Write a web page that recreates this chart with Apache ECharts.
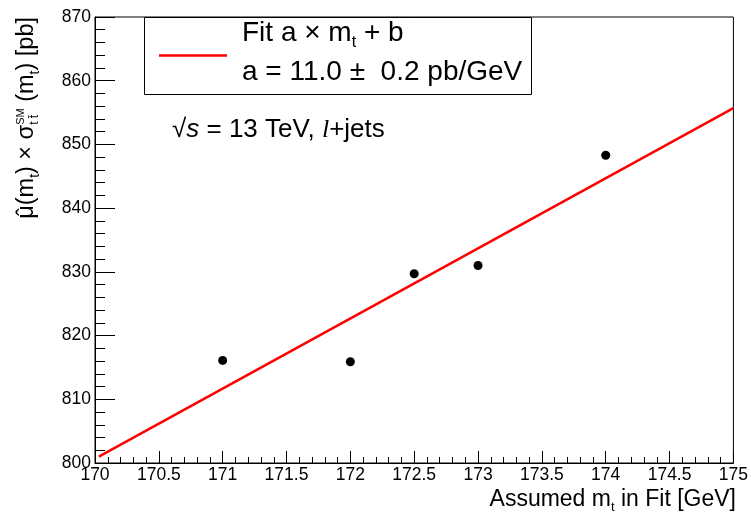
<!DOCTYPE html>
<html>
<head>
<meta charset="utf-8">
<script src="https://cdn.jsdelivr.net/npm/echarts@6/dist/echarts.min.js"></script>
<style>
  html, body { margin: 0; padding: 0; background: #fff; }
  #chart { width: 751px; height: 513px; }
</style>
</head>
<body>
<div id="chart"></div>
<script>
// assumed top mass in the fit [GeV] and measured cross-section [pb]
const massPoints = [171, 172, 172.5, 173, 174]
const xsecValues = [816.1, 815.9, 829.7, 831.0, 848.3]

// fitted straight line, end points
const fitMass = [170.03, 175]
const fitXsec = [801.0, 855.7]

const xRange = [170, 175]
const yRange = [800, 870]

const FONT = '"Liberation Sans", Arial, sans-serif'

// measure text so sub/superscripts can be placed by hand
const ctx = document.createElement('canvas').getContext('2d')

function textRun(parts, x, y, rotation, alignEnd) {
  let cx = 0
  let stackW = 0
  const children = []
  parts.forEach(p => {
    const font = (p.style || 'normal') + ' ' + p.size + 'px ' + (p.family || FONT)
    ctx.font = font
    const tw = ctx.measureText(p.t).width
    children.push({
      type: 'text',
      z: 100,
      x: cx + (p.dx || 0),
      y: (p.dy || 0) - 0.35 * p.size,
      style: {
        text: p.t, font: font, fill: '#000',
        align: 'left', verticalAlign: 'middle',
        textAlign: 'left', textVerticalAlign: 'middle'
      }
    })
    if (p.hold) {
      stackW = Math.max(stackW, tw)
    } else {
      cx += Math.max(tw, stackW)
      stackW = 0
    }
  })
  // alignEnd: (x, y) is the end of the run instead of its start
  if (alignEnd) {
    if (rotation) y += cx
    else x -= cx
  }
  return { type: 'group', x: x, y: y, rotation: rotation || 0, children: children, z: 100 }
}

const S = 23.5
ctx.font = S + 'px ' + FONT
const muW = ctx.measureText('\u03BC').width
const hatW = ctx.measureText('\u02C6').width

const yTitle = textRun([
  { t: '\u03BC', size: S },
  { t: '\u02C6', size: S, dx: -(muW + hatW) / 2, hold: true },
  { t: '(m', size: S },
  { t: 't', size: 14, dy: 5 },
  { t: ') \u00D7 \u03C3', size: S },
  { t: 'SM', size: 11, dy: -10, hold: true },
  { t: 't t\u0304', size: 12, dy: 4 },
  { t: ' (m', size: S },
  { t: 't', size: 14, dy: 5 },
  { t: ') [pb]', size: S }
], 35, 17, Math.PI / 2, true)

const xTitle = textRun([
  { t: 'Assumed m', size: 23 },
  { t: 't', size: 13, dy: 4 },
  { t: ' in Fit [GeV]', size: 23 }
], 736, 508, 0, true)

const legendLine1 = textRun([
  { t: 'Fit a \u00D7 m', size: 28 },
  { t: 't', size: 16, dy: 5 },
  { t: ' + b', size: 28 }
], 242, 43)

const legendLine2 = textRun([
  { t: 'a = 11.0 \u00B1  0.2 pb/GeV', size: 28 }
], 242, 82)

const energyLabel = textRun([
  { t: '\u221A', size: 26 },
  { t: 's', size: 26, style: 'italic' },
  { t: ' = 13 TeV, ', size: 26 },
  { t: 'l', size: 26, style: 'italic', family: '"Liberation Serif", serif' },
  { t: '+jets', size: 26 }
], 172, 139)

const chart = echarts.init(document.getElementById('chart'))

chart.setOption({
  animation: false,
  backgroundColor: '#fff',
  grid: {
    left: 95, right: 14, top: 17, bottom: 50,
    show: true, borderColor: '#000', borderWidth: 1
  },
  xAxis: {
    type: 'value',
    min: xRange[0], max: xRange[1], interval: 0.5,
    axisLine: { lineStyle: { color: '#000', width: 1 } },
    axisTick: { inside: true, length: 12, lineStyle: { color: '#000' } },
    minorTick: { show: true, splitNumber: 5, length: 6, lineStyle: { color: '#000' } },
    axisLabel: { color: '#000', fontSize: 17.5, fontFamily: FONT, margin: 3 },
    splitLine: { show: false }
  },
  yAxis: {
    type: 'value',
    min: yRange[0], max: yRange[1], interval: 10,
    axisLine: { show: true, lineStyle: { color: '#000', width: 1 } },
    axisTick: { show: true, inside: true, length: 20, lineStyle: { color: '#000' } },
    minorTick: { show: true, splitNumber: 5, length: 10, lineStyle: { color: '#000' } },
    axisLabel: { color: '#000', fontSize: 17.5, fontFamily: FONT, margin: 4 },
    splitLine: { show: false }
  },
  series: [
    {
      name: 'Fit',
      type: 'line',
      data: fitMass.map((m, i) => [m, fitXsec[i]]),
      showSymbol: false,
      lineStyle: { color: '#ff0000', width: 2.5 },
      z: 2
    },
    {
      name: 'Data',
      type: 'scatter',
      data: massPoints.map((m, i) => [m, xsecValues[i]]),
      symbolSize: 9,
      itemStyle: { color: '#000', opacity: 1 },
      z: 3
    }
  ],
  graphic: [
    {
      type: 'rect', z: 90,
      shape: { x: 144.5, y: 17.5, width: 387, height: 77 },
      style: { fill: '#fff', stroke: '#000', lineWidth: 1 }
    },
    {
      type: 'line', z: 95,
      shape: { x1: 159, y1: 55.5, x2: 227, y2: 55.5 },
      style: { stroke: '#ff0000', lineWidth: 2.5 }
    },
    legendLine1,
    legendLine2,
    energyLabel,
    yTitle,
    xTitle
  ]
})
</script>
</body>
</html>
